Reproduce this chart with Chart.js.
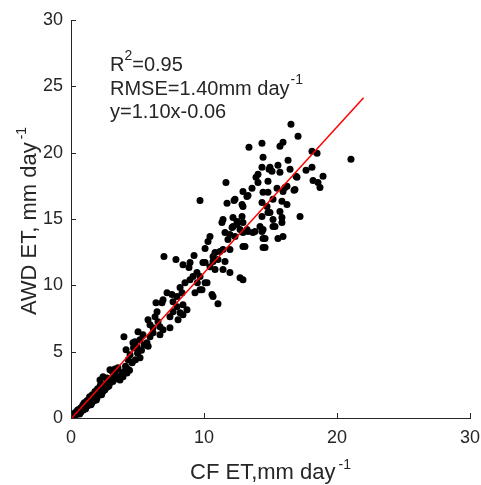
<!DOCTYPE html>
<html>
<head>
<meta charset="utf-8">
<script src="https://cdn.jsdelivr.net/npm/chart.js@4.4.1/dist/chart.umd.min.js"></script>
<style>
  html, body { margin: 0; padding: 0; background: #fff; }
  #wrap { width: 481px; height: 485px; }
</style>
</head>
<body>
<div id="wrap"><canvas id="et" width="481" height="485"></canvas></div>
<script>
// CF ET (x) vs AWD ET (y), mm/day
const cfET = [
  21.05, 16.54, 17.07, 13.38, 14.36, 15.71, 15.94, 14.44, 18.12, 18.50,
  14.36, 14.96, 15.56, 15.71, 16.32, 16.47, 16.92, 17.67, 18.12, 18.20,
  18.57, 18.72, 18.95, 13.91, 14.06, 13.61, 12.93, 13.23, 14.44, 14.81,
  15.49, 15.94, 16.24, 16.77, 12.26, 14.36, 14.74, 15.19, 15.86, 16.24,
  12.93, 12.86, 14.36, 14.96, 15.19, 15.71, 15.86, 17.22, 12.48, 12.18,
  14.21, 14.44, 15.19, 15.86, 15.94, 15.56, 12.93, 13.23, 13.83, 14.44,
  13.08, 14.44, 11.65, 9.70, 11.73, 12.86, 13.31, 14.06, 14.81, 14.89,
  15.11, 16.99, 16.84, 16.09, 12.33, 14.81, 15.34, 14.36, 14.59, 14.59,
  11.43, 11.35, 12.18, 12.93, 12.48, 12.11, 12.71, 11.58, 11.95, 12.33,
  13.31, 13.68, 11.80, 10.45, 10.30, 10.08, 10.83, 11.20, 11.43, 11.95,
  12.93, 10.08, 10.68, 11.05, 10.45, 10.83, 11.58, 11.43, 11.95, 9.70,
  10.08, 12.71, 12.93, 9.85, 10.68, 11.05,
  6.99, 7.89, 8.42, 8.95, 8.87, 9.25, 9.92, 10.68, 9.47, 9.17,
  8.95, 8.57, 10.23, 8.20, 8.35, 7.97, 9.32, 7.22, 7.59, 7.67,
  6.92, 7.97, 8.42, 8.72, 8.20, 7.67, 7.44, 8.05, 8.42, 6.39,
  6.84, 6.47, 6.32, 5.79, 5.94, 6.54, 6.69, 6.92, 7.44, 5.04,
  5.41, 5.19, 5.94, 6.17, 6.69, 4.66, 5.71, 9.70, 10.60, 9.50,
  3.98, 4.14, 5.19, 4.59, 3.91, 2.93, 3.31, 3.53, 3.68, 2.41,
  2.18, 2.71, 4.21, 4.44, 4.96, 4.81, 6.17, 4.70, 5.00, 5.30,
  5.50, 5.80, 3.30, 2.90, 3.60, 4.40, 2.70, 2.80, 3.00, 3.10,
  3.20, 3.40, 3.50, 3.75, 4.00, 4.10, 4.30, 4.60,
  0.12, 0.18, 0.25, 0.30, 0.35, 0.40, 0.45, 0.50, 0.55, 0.60,
  0.62, 0.70, 0.72, 0.80, 0.85, 0.88, 0.95, 1.00, 1.05, 1.10,
  1.15, 1.20, 1.25, 1.30, 1.35, 1.40, 1.45, 1.50, 1.55, 1.60,
  1.65, 1.70, 1.75, 1.80, 1.85, 1.90, 1.95, 2.00, 2.05, 2.10,
  2.15, 2.20, 2.30, 2.35, 2.45, 2.50, 2.60, 0.50, 0.90, 1.20,
  1.60, 2.00, 0.30, 1.00, 1.40, 1.80, 2.20, 0.65, 1.10, 1.50,
  1.90, 2.30,
  0.75, 0.95, 1.25, 1.45, 1.70, 1.95, 2.25, 2.55, 2.85, 3.15,
  1.05, 1.55, 2.40, 2.75, 3.45, 3.85, 4.25, 4.85
];
const awdET = [
  19.50, 22.15, 21.24, 20.41, 20.71, 20.48, 20.79, 19.65, 20.11, 19.95,
  18.90, 18.90, 19.05, 18.52, 19.43, 18.75, 18.22, 18.67, 18.90, 17.91,
  17.76, 17.38, 18.22, 18.14, 17.76, 17.31, 17.08, 16.70, 17.01, 17.01,
  17.31, 17.08, 17.46, 17.16, 16.40, 16.25, 15.95, 16.48, 16.33, 16.10,
  15.95, 15.19, 15.19, 15.49, 14.97, 15.57, 15.12, 15.19, 14.81, 14.44,
  14.44, 14.21, 14.44, 14.74, 13.68, 13.53, 13.98, 14.21, 14.06, 13.53,
  12.93, 12.85, 17.76, 16.40, 16.18, 16.10, 16.78, 18.37, 17.84, 18.75,
  18.59, 18.14, 17.23, 17.38, 16.48, 15.49, 14.44, 14.06, 13.53, 12.85,
  14.97, 14.74, 15.12, 14.74, 14.59, 14.36, 14.21, 13.98, 13.83, 13.68,
  14.06, 13.98, 13.45, 13.68, 13.30, 12.77, 12.47, 12.55, 12.70, 12.70,
  12.93, 11.72, 11.79, 11.94, 11.41, 11.19, 11.79, 11.19, 10.96, 10.66,
  10.20, 10.58, 10.43, 9.67, 9.15, 8.62,
  12.17, 11.94, 11.56, 11.72, 11.34, 12.24, 11.72, 12.17, 10.96, 10.66,
  10.43, 10.20, 10.20, 9.83, 9.45, 9.15, 9.45, 9.45, 9.30, 8.77,
  8.92, 8.39, 8.54, 8.16, 7.94, 8.01, 7.63, 7.41, 7.79, 8.69,
  8.69, 8.01, 7.63, 7.41, 7.03, 7.26, 6.88, 6.65, 6.80, 6.50,
  6.27, 5.90, 6.12, 6.42, 6.27, 5.67, 5.67, 9.67, 9.30, 10.20,
  6.12, 5.14, 4.54, 4.16, 3.10, 3.63, 3.40, 3.78, 2.87, 3.10,
  2.87, 3.02, 3.40, 4.76, 5.37, 5.74, 6.80, 5.30, 4.90, 5.10,
  5.50, 5.40, 3.70, 2.60, 3.00, 3.60, 2.90, 2.55, 2.80, 3.50,
  3.05, 2.95, 3.70, 3.10, 3.50, 3.90, 4.40, 4.20,
  0.10, 0.05, 0.22, 0.15, 0.35, 0.28, 0.50, 0.38, 0.45, 0.62,
  0.40, 0.55, 0.75, 0.68, 0.85, 0.60, 0.90, 0.78, 1.05, 0.88,
  1.20, 0.95, 1.10, 1.35, 1.05, 1.25, 1.50, 1.20, 1.38, 1.60,
  1.30, 1.50, 1.75, 1.45, 1.65, 1.90, 1.60, 1.80, 2.05, 1.75,
  1.95, 2.20, 1.95, 2.30, 2.10, 2.50, 2.25, 0.60, 1.00, 1.30,
  1.75, 2.20, 0.40, 1.15, 1.60, 2.00, 2.45, 0.30, 0.70, 1.00,
  1.35, 1.75,
  0.45, 0.62, 0.92, 1.02, 1.28, 1.48, 1.82, 2.12, 2.42, 2.75,
  0.70, 1.12, 2.00, 2.35, 3.15, 3.40, 3.70, 4.40
];

// fitted line y = 1.10x - 0.06
const fitSlope = 1.10;
const fitIntercept = -0.06;
const fitX = [0, 22];

const xTicks = [0, 10, 20, 30];
const yTicks = [0, 5, 10, 15, 20, 25, 30];

const FONT = "'Liberation Sans', Arial, sans-serif";
const INK = '#262626';

const points = cfET.map((x, i) => ({ x: x, y: awdET[i] }));
const fitLine = fitX.map(x => ({ x: x, y: fitSlope * x + fitIntercept }));

// draws text with superscript parts
function richText(ctx, parts, x, y, align) {
  let w = 0;
  parts.forEach(p => {
    ctx.font = p.size + 'px ' + FONT;
    w += ctx.measureText(p.text).width + (p.gap || 0);
  });
  let cx = align === 'center' ? x - w / 2 : x;
  parts.forEach(p => {
    ctx.font = p.size + 'px ' + FONT;
    cx += p.gap || 0;
    ctx.fillText(p.text, cx, y - (p.rise || 0));
    cx += ctx.measureText(p.text).width;
  });
}

const extras = {
  id: 'extras',
  afterDraw(chart) {
    const ctx = chart.ctx;
    const xs = chart.scales.x, ys = chart.scales.y;
    const area = chart.chartArea;
    ctx.save();
    // inward ticks
    ctx.strokeStyle = INK;
    ctx.lineWidth = 1;
    ctx.beginPath();
    xTicks.forEach(v => {
      const px = Math.round(xs.getPixelForValue(v)) + 0.5;
      ctx.moveTo(px, area.bottom);
      ctx.lineTo(px, area.bottom - 5);
    });
    yTicks.forEach(v => {
      const py = Math.round(ys.getPixelForValue(v)) + 0.5;
      ctx.moveTo(area.left, py);
      ctx.lineTo(area.left + 5, py);
    });
    ctx.stroke();

    ctx.fillStyle = INK;
    ctx.textBaseline = 'alphabetic';
    ctx.textAlign = 'left';
    // stats box
    richText(ctx, [{ text: 'R', size: 20 }, { text: '2', size: 14, rise: 11 }, { text: '=0.95', size: 20 }], 110, 71);
    richText(ctx, [{ text: 'RMSE=1.40mm day', size: 20 }, { text: '-1', size: 14, rise: 11, gap: 1 }], 110, 95);
    richText(ctx, [{ text: 'y=1.10x-0.06', size: 20 }], 110, 118);

    // axis titles
    const xc = (area.left + area.right) / 2;
    richText(ctx, [{ text: 'CF ET,mm day', size: 22 }, { text: '-1', size: 14, rise: 10, gap: 3 }], xc, 479, 'center');
    ctx.translate(36, 221);
    ctx.rotate(-Math.PI / 2);
    richText(ctx, [{ text: 'AWD ET, mm day', size: 22 }, { text: '-1', size: 14, rise: 10, gap: 3 }], 0, 0, 'center');
    ctx.restore();
  }
};

new Chart(document.getElementById('et').getContext('2d'), {
  data: {
    datasets: [
      {
        type: 'line',
        data: fitLine,
        borderColor: '#ff0000',
        borderWidth: 1.5,
        pointRadius: 0,
        order: 0
      },
      {
        type: 'scatter',
        data: points,
        backgroundColor: '#000000',
        borderWidth: 0,
        pointRadius: 3.5,
        order: 1
      }
    ]
  },
  options: {
    responsive: false,
    animation: false,
    layout: { padding: { top: 20, right: 11, left: 0, bottom: 0 } },
    plugins: { legend: { display: false }, tooltip: { enabled: false } },
    scales: {
      x: {
        type: 'linear',
        min: 0, max: 30,
        afterFit: s => { s.height = 67; s.paddingLeft = 0; s.paddingRight = 0; },
        afterBuildTicks: s => { s.ticks = xTicks.map(v => ({ value: v })); },
        grid: { display: false, drawTicks: false },
        border: { display: true, color: INK, width: 1 },
        ticks: { color: INK, font: { family: FONT, size: 18 }, padding: 9, maxRotation: 0 }
      },
      y: {
        type: 'linear',
        min: 0, max: 30,
        afterFit: s => { s.width = 71; s.paddingTop = 0; s.paddingBottom = 0; },
        afterBuildTicks: s => { s.ticks = yTicks.map(v => ({ value: v })); },
        grid: { display: false, drawTicks: false },
        border: { display: true, color: INK, width: 1 },
        ticks: { color: INK, font: { family: FONT, size: 18 }, padding: 8 }
      }
    }
  },
  plugins: [extras]
});
</script>
</body>
</html>
